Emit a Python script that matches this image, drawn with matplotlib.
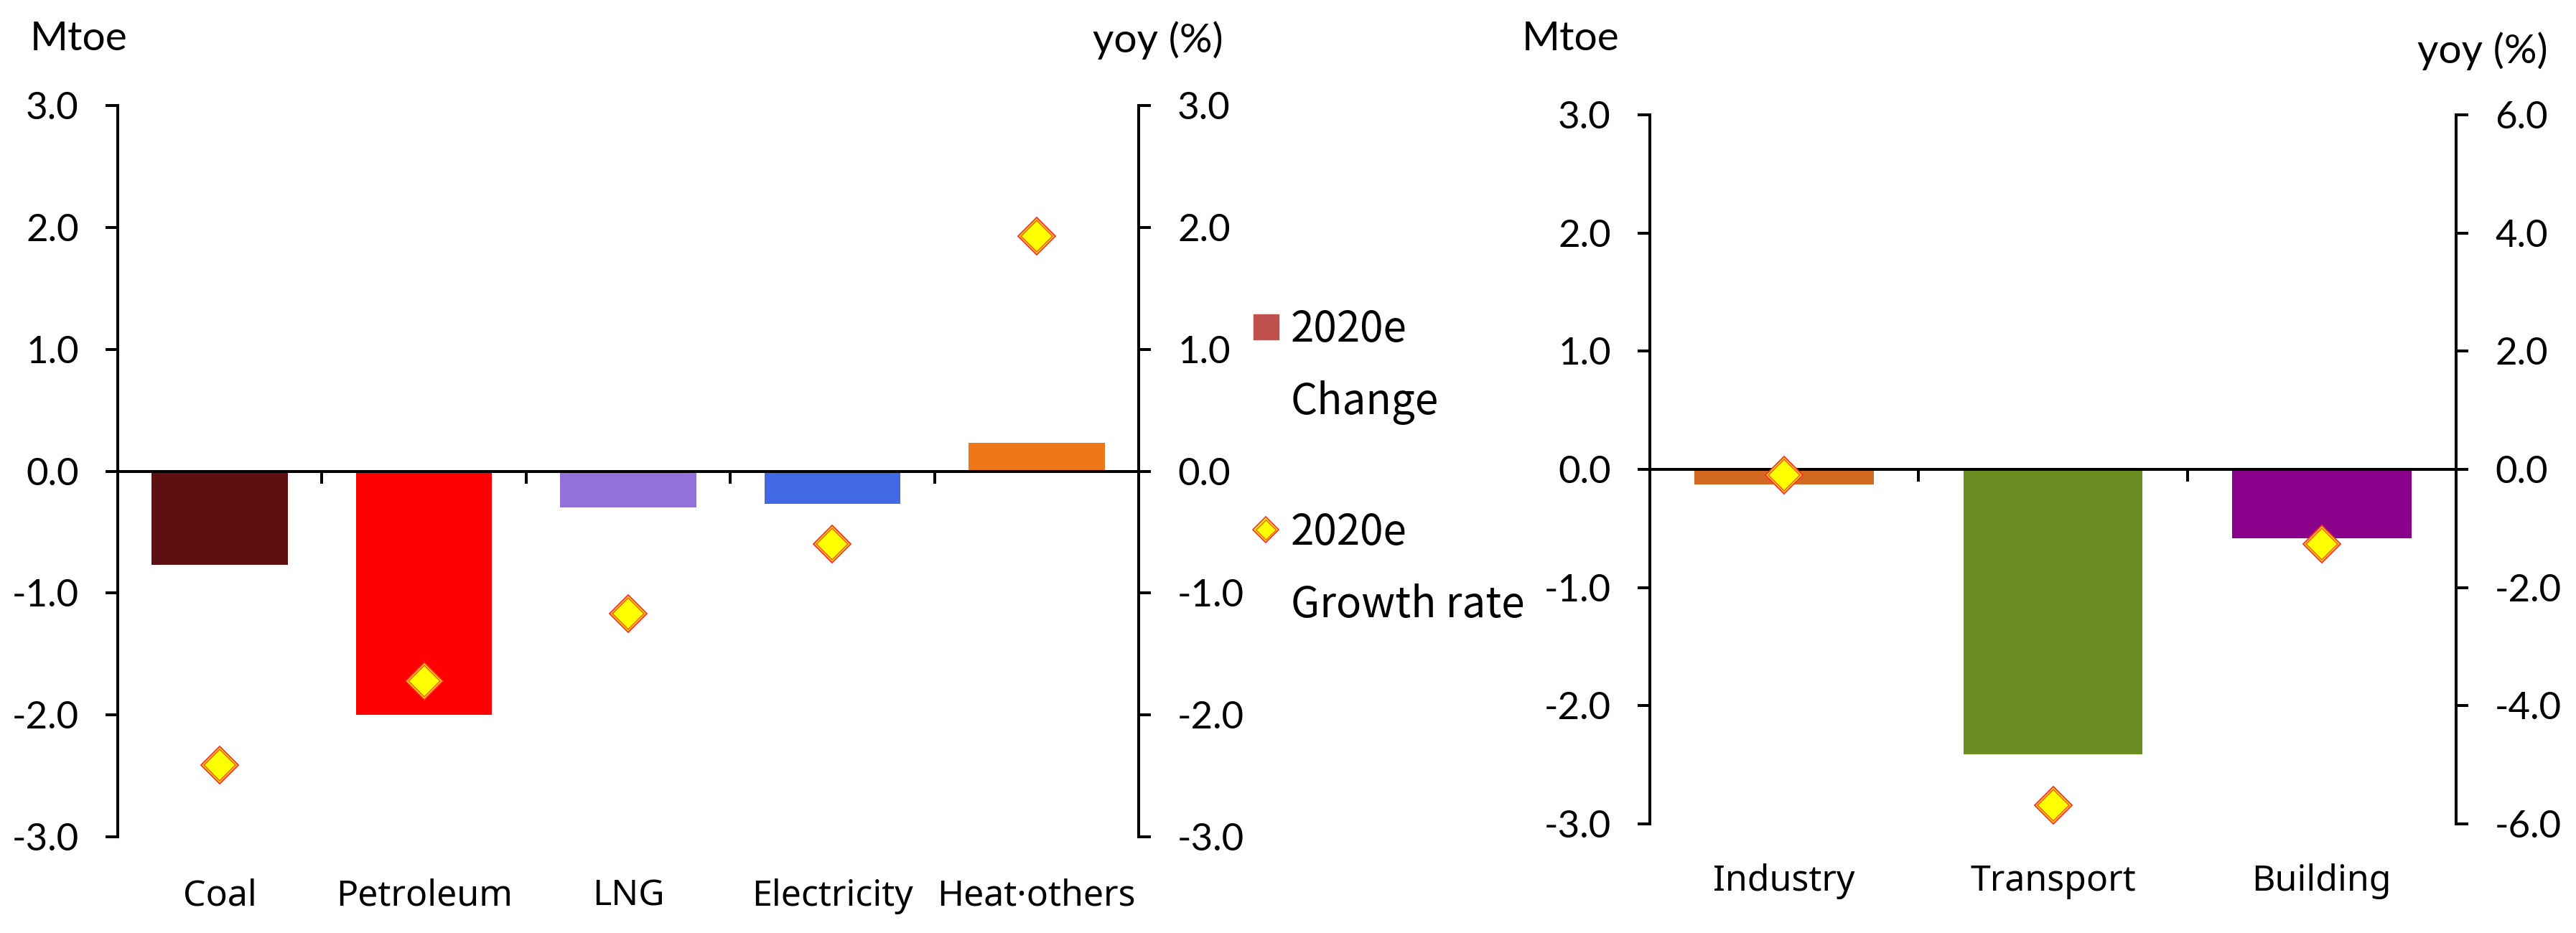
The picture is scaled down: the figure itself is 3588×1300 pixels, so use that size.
import numpy as np
import matplotlib.pyplot as plt
from matplotlib.patches import Rectangle
from matplotlib.ticker import FormatStrFormatter

# Left panel: change in final energy consumption by source (2020e)
sources = ["Coal", "Petroleum", "LNG", "Electricity", "Heat·others"]
source_change = [-0.77, -2.00, -0.30, -0.27, 0.23]     # Mtoe
source_growth = [-2.41, -1.72, -1.17, -0.60, 1.93]     # yoy (%)
source_colors = ["#5F0F12", "#FF0000", "#9370DB", "#4169E1", "#EE7718"]

# Right panel: change by sector (2020e)
sectors = ["Industry", "Transport", "Building"]
sector_change = [-0.13, -2.41, -0.58]                  # Mtoe
sector_growth = [-0.10, -5.68, -1.26]                  # yoy (%)
sector_colors = ["#D2691E", "#6B8E23", "#8B008B"]

W, H = 3588, 1300
NUM_FONT = "Lato"
TXT_FONT = ["Noto Sans", "DejaVu Sans"]
LW = 2.9


def draw_panel(fig, rect, cats, change, growth, colors, y2max, y2step):
    ax = fig.add_axes(rect)
    x = np.arange(len(cats))
    ax.bar(x, change, width=0.667, color=colors, zorder=2)
    ax.set_xlim(-0.5, len(cats) - 0.5)
    ax.set_ylim(-3, 3)
    ax.set_yticks(np.arange(-3, 3.1, 1))
    ax.yaxis.set_major_formatter(FormatStrFormatter("%.1f"))
    for s in ["top", "right"]:
        ax.spines[s].set_visible(False)
    ax.spines["bottom"].set_position(("data", 0))
    for s in ["left", "bottom"]:
        ax.spines[s].set_linewidth(LW)
    ax.set_xticks([])
    ax.set_xticks(x[:-1] + 0.5, minor=True)
    ax.tick_params(axis="x", which="minor", direction="out", length=12, width=LW)
    ax.tick_params(axis="y", direction="out", length=12, width=LW, pad=27)
    for lbl in ax.get_yticklabels():
        lbl.set_fontfamily(NUM_FONT)
        lbl.set_fontsize(38)
    for xi, c in zip(x, cats):
        ax.text(xi, -0.094, c, transform=ax.get_xaxis_transform(),
                ha="center", va="baseline", fontsize=36, family=TXT_FONT)

    ax2 = ax.twinx()
    ax2.set_ylim(-y2max, y2max)
    ax2.set_yticks(np.arange(-y2max, y2max + 0.01, y2step))
    ax2.yaxis.set_major_formatter(FormatStrFormatter("%.1f"))
    for s in ["top", "left", "bottom"]:
        ax2.spines[s].set_visible(False)
    ax2.spines["right"].set_linewidth(LW)
    ax2.tick_params(axis="y", direction="out", length=12, width=LW, pad=27)
    for lbl in ax2.get_yticklabels():
        lbl.set_fontfamily(NUM_FONT)
        lbl.set_fontsize(38)
    # diamond with a double red outline
    ax2.plot(x, growth, ls="none", marker="D", ms=26, mfc="#FFFF00",
             mec="#FF2A2A", mew=1.3, clip_on=False, zorder=3)
    ax2.plot(x, growth, ls="none", marker="D", ms=22, mfc="none",
             mec="#FF5020", mew=1.1, clip_on=False, zorder=4)
    return ax, ax2


fig = plt.figure(figsize=(W / 100, H / 100), dpi=100)

draw_panel(fig, [164 / W, 1 - 1166 / H, (1586 - 164) / W, (1166 - 147) / H],
           sources, source_change, source_growth, source_colors, 3, 1)
draw_panel(fig, [2298 / W, 1 - 1148 / H, (3421 - 2298) / W, (1148 - 160) / H],
           sectors, sector_change, sector_growth, sector_colors, 6, 2)

# unit labels
unit_kw = dict(fontsize=41, family=NUM_FONT, va="baseline")
fig.text(42 / W, 1 - 70 / H, "Mtoe", **unit_kw)
fig.text(2120 / W, 1 - 70 / H, "Mtoe", **unit_kw)
fig.text(1522 / W, 1 - 73 / H, "yoy (%)", **unit_kw)
fig.text(3367 / W, 1 - 88 / H, "yoy (%)", **unit_kw)

# legend, drawn in pixel coordinates on an overlay axes
lax = fig.add_axes([0, 0, 1, 1])
lax.set_xlim(0, W)
lax.set_ylim(H, 0)
lax.axis("off")
lax.add_patch(Rectangle((1746, 438), 35, 35, color="#C0504D"))
lax.plot([1763], [738], marker="D", ms=18, mfc="#FFFF00", mec="#FF2A2A", mew=1.2)
lax.plot([1763], [738], marker="D", ms=14, mfc="none", mec="#FF5020", mew=1.0)
for y, t in [(476, "2020e"), (577, "Change"), (759, "2020e"), (860, "Growth rate")]:
    lax.text(1798, y, t, fontsize=42, family=["Noto Sans CJK KR", "DejaVu Sans"],
             va="baseline")

fig.savefig("out.png", dpi=100)
